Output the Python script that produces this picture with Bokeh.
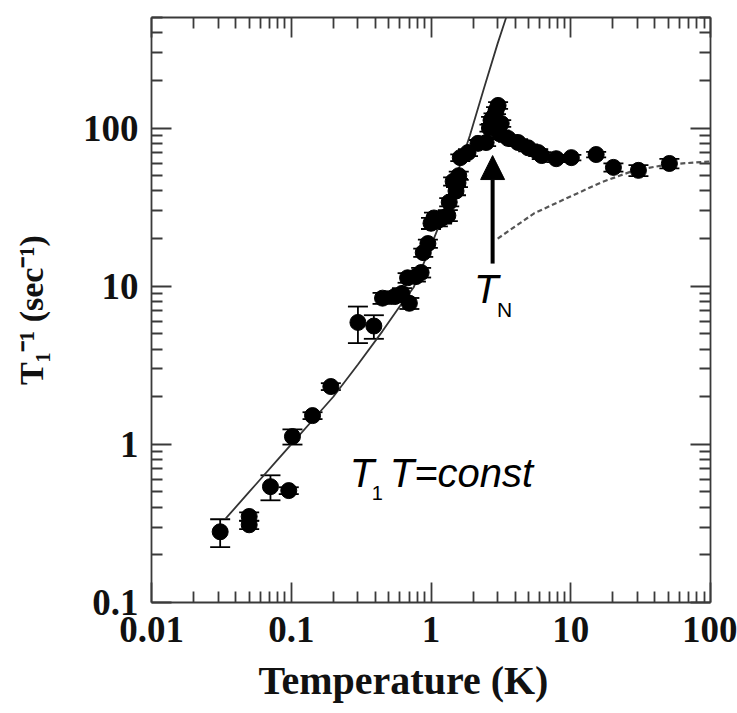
from bokeh.plotting import figure
from bokeh.models import (Range1d, LogAxis, FixedTicker, CustomJSTickFormatter, ColumnDataSource,
                          Whisker, TeeHead, Arrow, NormalHead, Label, Title)
from bokeh.embed import file_html
from bokeh.resources import INLINE

# ---- data ----
temperature = [0.031, 0.050, 0.050, 0.071, 0.096, 0.102, 0.142, 0.192, 0.30, 0.39,
               0.45, 0.55, 0.62, 0.70, 0.68, 0.78, 0.85, 0.88, 0.95, 1.00,
               1.05, 1.12, 1.20, 1.32, 1.35, 1.44, 1.51, 1.56, 1.58, 1.62,
               1.84, 2.17, 2.48, 2.62, 2.69, 2.80, 2.92, 3.02, 3.10, 3.18,
               3.56, 4.2, 4.96, 5.85, 6.2, 7.87, 10.1, 15.2, 20.2, 30.5, 50.8]
rate = [0.28, 0.35, 0.31, 0.54, 0.51, 1.12, 1.52, 2.32, 5.9, 5.6,
        8.4, 8.6, 9.0, 7.8, 11.3, 11.5, 12.2, 16.3, 18.6, 25,
        27, 26, 27, 28, 34, 46, 40, 45, 50, 65,
        70, 80, 81, 100, 112, 118, 129, 139, 92, 107,
        86, 81, 75, 70, 67, 64, 65, 68, 56.4, 54, 59.7]
err_frac = [0.20, 0.06, 0.06, 0.18, 0.05, 0.11, 0.05, 0.05, 0.26, 0.17,
            0.08, 0.08, 0.08, 0.08, 0.07, 0.07, 0.07, 0.06, 0.06, 0.08,
            0.08, 0.08, 0.08, 0.08, 0.06, 0.06, 0.06, 0.06, 0.06, 0.05,
            0.05, 0.05, 0.05, 0.05, 0.05, 0.05, 0.05, 0.05, 0.05, 0.05,
            0.05, 0.05, 0.05, 0.05, 0.05, 0.05, 0.04, 0.04, 0.06, 0.08, 0.07]

# solid curve (low-T fit)
fit_T = [0.034, 0.05, 0.08, 0.1, 0.15, 0.2, 0.3, 0.45, 0.6, 0.75, 1.0, 1.2, 1.5, 1.9, 2.4, 3.0, 3.45]
fit_R = [0.34, 0.5, 0.8, 1.0, 1.5, 2.0, 3.2, 5.2, 7.5, 9.8, 18, 27, 48, 90, 180, 343, 500]

# dashed curve (high-T)
hi_T = [3.0, 5.47, 9.6, 16.5, 28.5, 50, 100]
hi_R = [20, 28.9, 36.4, 45.3, 54, 58.9, 61.5]

x_ticks = [0.01, 0.1, 1, 10, 100]
y_ticks = [0.1, 1, 10, 100]

# ---- figure ----
p = figure(width=737, height=713, x_axis_type="log", y_axis_type="log",
           x_range=Range1d(0.01, 100), y_range=Range1d(0.1, 500),
           output_backend="svg", toolbar_location=None,
           min_border_left=151, min_border_right=27, min_border_top=17, min_border_bottom=111)
p.background_fill_color = "white"
p.border_fill_color = "white"
p.outline_line_color = None
p.grid.visible = False

def minors(lo_exp, hi_exp):
    return [m * 10.0 ** k for k in range(lo_exp, hi_exp) for m in range(2, 10)]

xt = FixedTicker(ticks=x_ticks, minor_ticks=minors(-2, 2))
yt = FixedTicker(ticks=y_ticks, minor_ticks=minors(-1, 3))
fmt = CustomJSTickFormatter(code="return tick.toString();")
blank = CustomJSTickFormatter(code="return '';")

axis_color = "#3a3a3a"

def style(ax, labels=True):
    ax.axis_line_color = axis_color
    ax.axis_line_width = 1.8
    ax.major_tick_line_color = axis_color
    ax.major_tick_line_width = 1.8
    ax.minor_tick_line_color = axis_color
    ax.minor_tick_line_width = 1.8
    ax.major_tick_in = 20
    ax.major_tick_out = 0
    ax.minor_tick_in = 11
    ax.minor_tick_out = 0
    if labels:
        ax.major_label_text_font = "Liberation Serif"
        ax.major_label_text_font_style = "bold"
        ax.major_label_text_font_size = "37px"
        ax.major_label_text_color = "#111111"
        ax.major_label_standoff = 12
        ax.axis_label_text_font = "Liberation Serif"
        ax.axis_label_text_font_style = "bold"
        ax.axis_label_text_color = "#111111"
    else:
        ax.major_label_text_font_size = "0px"
        ax.major_label_standoff = 0

xa = p.xaxis[0]
xa.ticker = xt
xa.formatter = fmt
style(xa)
xa.major_label_standoff = 14

ya = p.yaxis[0]
ya.ticker = yt
ya.formatter = fmt
ya.axis_label = "T\u2081\u207b\u00b9 (sec\u207b\u00b9)"
style(ya)
ya.major_label_standoff = 13
ya.axis_label_text_font_size = "34px"
ya.axis_label_standoff = 30

top = LogAxis(ticker=xt, formatter=blank)
style(top, labels=False)
p.add_layout(top, "above")
right = LogAxis(ticker=yt, formatter=blank)
style(right, labels=False)
p.add_layout(right, "right")

# x-axis title, set a little left of the frame centre as in the original
p.add_layout(Title(text="Temperature (K)", align="left", offset=107, standoff=22,
                   text_font="Liberation Serif", text_font_style="bold",
                   text_font_size="40px", text_color="#111111"), "below")

# curves
p.line(fit_T, fit_R, line_color="#333333", line_width=1.8)
p.line(hi_T, hi_R, line_color="#555555", line_width=2.2, line_dash="5 3")

# data with error bars
lo = [r * (1 - f) for r, f in zip(rate, err_frac)]
hi = [r * (1 + f) for r, f in zip(rate, err_frac)]
src = ColumnDataSource(dict(T=temperature, R=rate, lo=lo, hi=hi))
w = Whisker(base="T", lower="lo", upper="hi", source=src, dimension="height",
            line_color="black", line_width=1.8,
            lower_head=TeeHead(size=20, line_color="black", line_width=1.8),
            upper_head=TeeHead(size=20, line_color="black", line_width=1.8))
p.add_layout(w)
p.scatter("T", "R", source=src, size=16, fill_color="black", line_color="black")

# arrow marking T_N
arrow_T = 2.76
arrow_from = 13.9
arrow_to = 67
p.add_layout(Arrow(x_start=arrow_T, y_start=arrow_from, x_end=arrow_T, y_end=arrow_to,
                   line_color="black", line_width=4,
                   end=NormalHead(size=24, fill_color="black", line_color="black")))

# text annotations
tn_T, tn_R = 2.17, 7.77
p.add_layout(Label(x=tn_T, y=tn_R, x_offset=-4, y_offset=15, text="T", text_font="Liberation Sans",
                   text_font_style="italic", text_font_size="40px", text_color="black",
                   text_baseline="alphabetic"))
p.add_layout(Label(x=tn_T, y=tn_R, x_offset=19, y_offset=-6, text="N", text_font="Liberation Sans",
                   text_font_size="21px", text_color="black", text_baseline="alphabetic"))

c_T, c_R = 0.28, 0.532
p.add_layout(Label(x=c_T, y=c_R, x_offset=-4, y_offset=15, text="T", text_font="Liberation Sans",
                   text_font_style="italic", text_font_size="40px", text_color="black",
                   text_baseline="alphabetic"))
p.add_layout(Label(x=c_T, y=c_R, x_offset=18, y_offset=-5, text="1", text_font="Liberation Sans",
                   text_font_size="20px", text_color="black", text_baseline="alphabetic"))
p.add_layout(Label(x=c_T, y=c_R, x_offset=36, y_offset=15, text="T=const", text_font="Liberation Sans",
                   text_font_style="italic", text_font_size="40px", text_color="black",
                   text_baseline="alphabetic"))

open("out.html", "w").write(file_html(p, INLINE))
